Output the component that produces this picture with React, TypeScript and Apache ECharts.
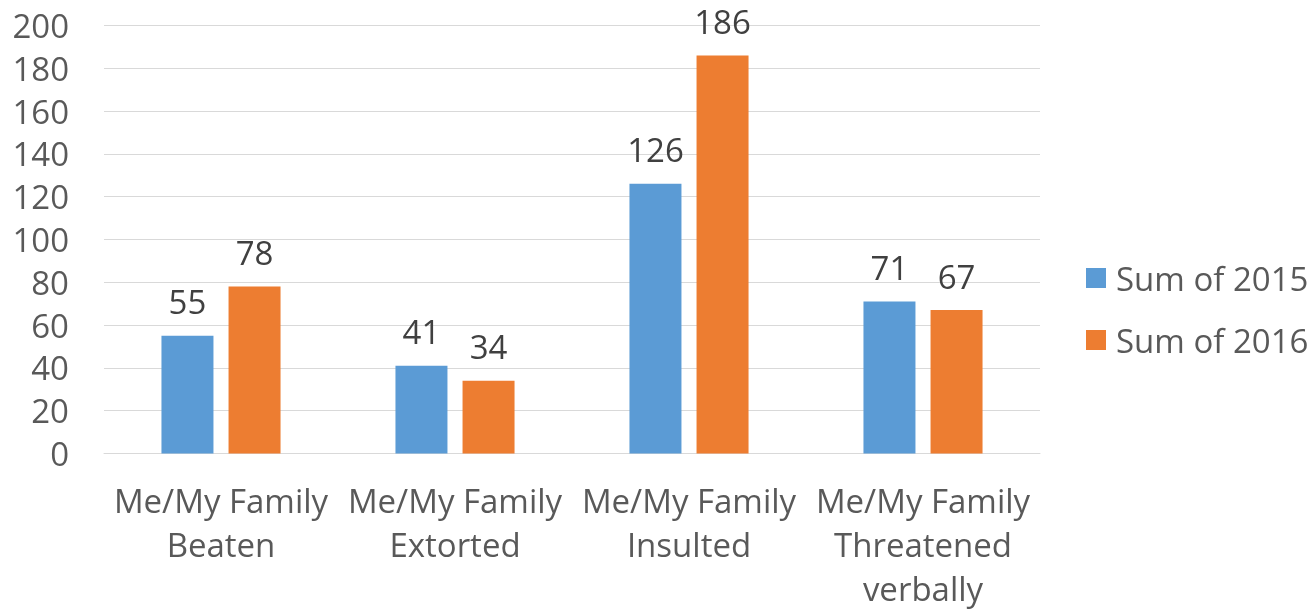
import React, { useEffect, useRef } from "react";
import * as echarts from "echarts";

const categories = [
  "Me/My Family\nBeaten",
  "Me/My Family\nExtorted",
  "Me/My Family\nInsulted",
  "Me/My Family\nThreatened\nverbally",
];
const series2015 = [55, 41, 126, 71];
const series2016 = [78, 34, 186, 67];
const seriesNames = ["Sum of 2015", "Sum of 2016"];
const colors = ["#5B9BD5", "#ED7D31"];

export default function App() {
  const ref = useRef<HTMLDivElement>(null);
  useEffect(() => {
    const chart = echarts.init(ref.current!, null, { renderer: "svg" });
    const font = "'Open Sans', sans-serif";
    chart.setOption({
      animation: false,
      textStyle: { fontFamily: font },
      grid: {
        left: 104,
        right: 269,
        top: 25.5,
        bottom: 158.5,
        containLabel: false,
        outerBoundsMode: "none",
      },
      legend: {
        orient: "vertical",
        left: 1081,
        top: 253,
        itemWidth: 20,
        itemHeight: 20,
        itemGap: 22,
        icon: "rect",
        data: seriesNames,
        textStyle: {
          fontSize: 33,
          color: "#595959",
          fontFamily: font,
          lineHeight: 40,
          padding: [0, 0, 0, 5],
        },
      },
      xAxis: {
        type: "category",
        data: categories,
        axisLine: { lineStyle: { color: "#D9D9D9", width: 1 } },
        axisTick: { show: false },
        axisLabel: {
          fontSize: 33,
          color: "#595959",
          lineHeight: 44,
          margin: 25,
          interval: 0,
          fontFamily: font,
        },
      },
      yAxis: {
        type: "value",
        min: 0,
        max: 200,
        interval: 20,
        axisLine: { show: false },
        axisTick: { show: false },
        splitLine: { lineStyle: { color: "#D9D9D9", width: 1 } },
        axisLabel: {
          fontSize: 33,
          lineHeight: 24,
          color: "#595959",
          margin: 35,
          fontFamily: font,
        },
      },
      series: [series2015, series2016].map((d, i) => ({
        name: seriesNames[i],
        type: "bar",
        data: d,
        barWidth: 52,
        barGap: "29%",
        itemStyle: { color: colors[i] },
        label: {
          show: true,
          position: "top",
          distance: 22,
          fontSize: 33,
          lineHeight: 24,
          color: "#404040",
          fontFamily: font,
        },
      })),
    });
    return () => chart.dispose();
  }, []);
  return (
    <div
      ref={ref}
      style={{ position: "fixed", left: 0, top: 0, width: 1309, height: 612 }}
    />
  );
}
